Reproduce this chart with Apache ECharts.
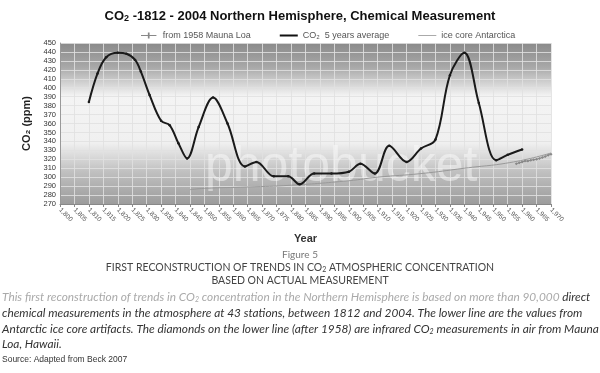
<!DOCTYPE html>
<html><head><meta charset="utf-8">
<script src="https://cdn.jsdelivr.net/npm/echarts@6/dist/echarts.min.js"></script>
<style>html,body{margin:0;padding:0;background:#fff}#c{width:600px;height:373px}</style>
</head><body><div id="c"></div>
<script>
// CO2 5 years average (Beck)
const co2Years  = [1810,1813,1816,1820,1823,1826,1828,1831,1835,1838,1841,1844,1848,1853,1858,1864,1868,1874,1879,1883,1888,1894,1900,1904,1909,1914,1920,1925,1930,1935,1940,1945,1951,1955,1960];
const co2Values = [384, 416, 434, 439, 438, 431, 418, 392, 363, 358, 338, 321, 356, 389, 360, 312, 317, 301, 301, 292, 304, 304, 306, 315, 304, 335, 317, 332, 342, 414, 439, 383, 319, 325, 331];
// ice core Antarctica
const iceYears  = [1845,1850,1865,1880,1900,1910,1925,1940,1957,1970];
const iceValues = [286, 287.5, 289, 291, 296, 300, 304, 310, 317, 327];
// from 1958 Mauna Loa
const maunaYears  = [1958,1959,1960,1961,1962,1963,1964,1965,1966,1967,1968,1969,1970];
const maunaValues = [315, 316, 317, 318, 318, 319, 319.6, 320, 321, 322, 323, 324.6, 325.7];
// axes
const xMin = 1800, xMax = 1970, xStep = 5;
const yMin = 270, yMax = 450, yStep = 10;

const pair = (xs, ys) => xs.map((x, i) => [x, ys[i]]);
const chart = echarts.init(document.getElementById('c'));
const bg = new echarts.graphic.LinearGradient(0, 0, 0, 1, [
  {offset: 0, color: '#8a8a8a'},
  {offset: 0.15, color: '#a8a8a8'},
  {offset: 0.33, color: '#f4f4f4'},
  {offset: 0.62, color: '#f0f0f0'},
  {offset: 0.8, color: '#c0c0c0'},
  {offset: 1, color: '#9c9c9c'}
]);
const italic = {fontFamily: 'Lato, sans-serif', fontStyle: 'italic', fontSize: 11.85};
chart.setOption({
  animation: false,
  title: {
    text: 'CO{s|2} -1812 - 2004 Northern Hemisphere, Chemical Measurement',
    left: 'center', top: 4,
    textStyle: {
      fontFamily: 'Liberation Sans, Arial', fontWeight: 'bold', fontSize: 13, color: '#111',
      rich: {s: {fontFamily: 'Liberation Sans, Arial', fontWeight: 'bold', fontSize: 9, color: '#111', verticalAlign: 'bottom', padding: [5, 0, 0, 0]}}
    }
  },
  legend: {
    top: 26, left: 136, itemGap: 29, itemWidth: 18, itemHeight: 6,
    textStyle: {fontFamily: 'Liberation Sans, Arial', fontSize: 9, color: '#555'},
    data: [
      {name: 'from 1958 Mauna Loa', icon: 'path://M0,3H18V4H0Z M8,0H10V7H8Z', itemStyle: {color: '#888'}},
      {name: 'CO₂  5 years average', icon: 'path://M0,2.5H18V4.5H0Z', itemStyle: {color: '#111'}},
      {name: 'ice core Antarctica', icon: 'path://M0,3H18V4H0Z', itemStyle: {color: '#aaa'}}
    ]
  },
  grid: {left: 60, right: 49, top: 43, bottom: 169, show: true, backgroundColor: bg, borderWidth: 0},
  xAxis: {
    type: 'value', min: xMin, max: xMax, interval: xStep,
    name: 'Year', nameLocation: 'middle', nameGap: 29,
    nameTextStyle: {fontFamily: 'Liberation Sans, Arial', fontWeight: 'bold', fontSize: 11, color: '#333'},
    axisLine: {show: true, lineStyle: {color: '#888'}},
    axisTick: {show: true, length: 3, lineStyle: {color: '#888'}},
    axisLabel: {rotate: -45, fontSize: 6.5, color: '#555', margin: 5, fontFamily: 'Liberation Sans, Arial', showMinLabel: true, showMaxLabel: true},
    splitLine: {show: true, lineStyle: {color: 'rgba(225,225,225,0.85)', width: 1}}
  },
  yAxis: {
    type: 'value', min: yMin, max: yMax, interval: yStep,
    name: 'CO₂ (ppm)', nameLocation: 'middle', nameGap: 26,
    nameTextStyle: {fontFamily: 'Liberation Sans, Arial', fontWeight: 'bold', fontSize: 11, color: '#222'},
    axisLine: {show: true, lineStyle: {color: '#999'}},
    axisTick: {show: false},
    axisLabel: {fontSize: 7.5, color: '#333', margin: 4, fontFamily: 'Liberation Sans, Arial'},
    splitLine: {show: true, lineStyle: {color: 'rgba(225,225,225,0.85)', width: 1}}
  },
  series: [
    {name: 'from 1958 Mauna Loa', type: 'line', data: pair(maunaYears, maunaValues),
     symbol: 'diamond', symbolSize: 3, showSymbol: true,
     lineStyle: {color: '#888', width: 1}, itemStyle: {color: '#888'}, z: 3},
    {name: 'CO₂  5 years average', type: 'line', data: pair(co2Years, co2Values),
     smooth: 0.35, symbol: 'circle', symbolSize: 2.5, showSymbol: true,
     lineStyle: {color: '#1a1a1a', width: 2}, itemStyle: {color: '#1a1a1a'}, z: 4},
    {name: 'ice core Antarctica', type: 'line', data: pair(iceYears, iceValues),
     smooth: true, symbol: 'none',
     lineStyle: {color: '#999', width: 1}, itemStyle: {color: '#aaa'}, z: 2}
  ],
  graphic: [
    {type: 'text', left: 205, top: 142, z: 1, silent: true,
     style: {text: 'photobucket', fontFamily: 'Liberation Sans, Arial', fontSize: 50, fill: 'rgba(255,255,255,0.45)'}},
    {type: 'text', left: 'center', top: 250,
     style: {text: 'Figure 5', fontFamily: 'Lato, sans-serif', fontSize: 10, fill: '#777'}},
    {type: 'text', left: 'center', top: 262,
     style: {text: 'FIRST RECONSTRUCTION OF TRENDS IN CO{s|2} ATMOSPHERIC CONCENTRATION', fontFamily: 'Lato, sans-serif', fontSize: 10.5, fill: '#444',
       rich: {s: {fontFamily: 'Lato, sans-serif', fontSize: 7, fill: '#444', padding: [5, 0, 0, 0]}}}},
    {type: 'text', left: 'center', top: 275,
     style: {text: 'BASED ON ACTUAL MEASUREMENT', fontFamily: 'Lato, sans-serif', fontSize: 10.5, fill: '#444'}},
    {type: 'text', left: 2, top: 291,
     style: {text: '{a|This first reconstruction of trends in CO}{as|2}{a| concentration in the Northern Hemisphere is based on more than 90,000 }{b|direct}',
       rich: {
         a: Object.assign({fill: '#aaa'}, italic),
         as: {fontFamily: 'Lato, sans-serif', fontStyle: 'italic', fontSize: 7, fill: '#aaa', padding: [6, 0, 0, 0]},
         b: Object.assign({fill: '#333'}, italic)
       }}},
    {type: 'text', left: 2, top: 307,
     style: Object.assign({text: 'chemical measurements in the atmosphere at 43 stations, between 1812 and 2004. The lower line are the values from', fill: '#333'}, italic)},
    {type: 'text', left: 2, top: 323,
     style: {text: '{b|Antarctic ice core artifacts. The diamonds on the lower line (after 1958) are infrared CO}{bs|2}{b| measurements in air from Mauna}',
       rich: {
         b: Object.assign({fill: '#333'}, italic),
         bs: {fontFamily: 'Lato, sans-serif', fontStyle: 'italic', fontSize: 7, fill: '#333', padding: [6, 0, 0, 0]}
       }}},
    {type: 'text', left: 2, top: 338,
     style: Object.assign({text: 'Loa, Hawaii.', fill: '#333'}, italic)},
    {type: 'text', left: 2, top: 355,
     style: {text: 'Source: Adapted from Beck 2007', fontFamily: 'Liberation Sans, Arial', fontSize: 8.5, fill: '#333'}}
  ]
});
</script></body></html>
